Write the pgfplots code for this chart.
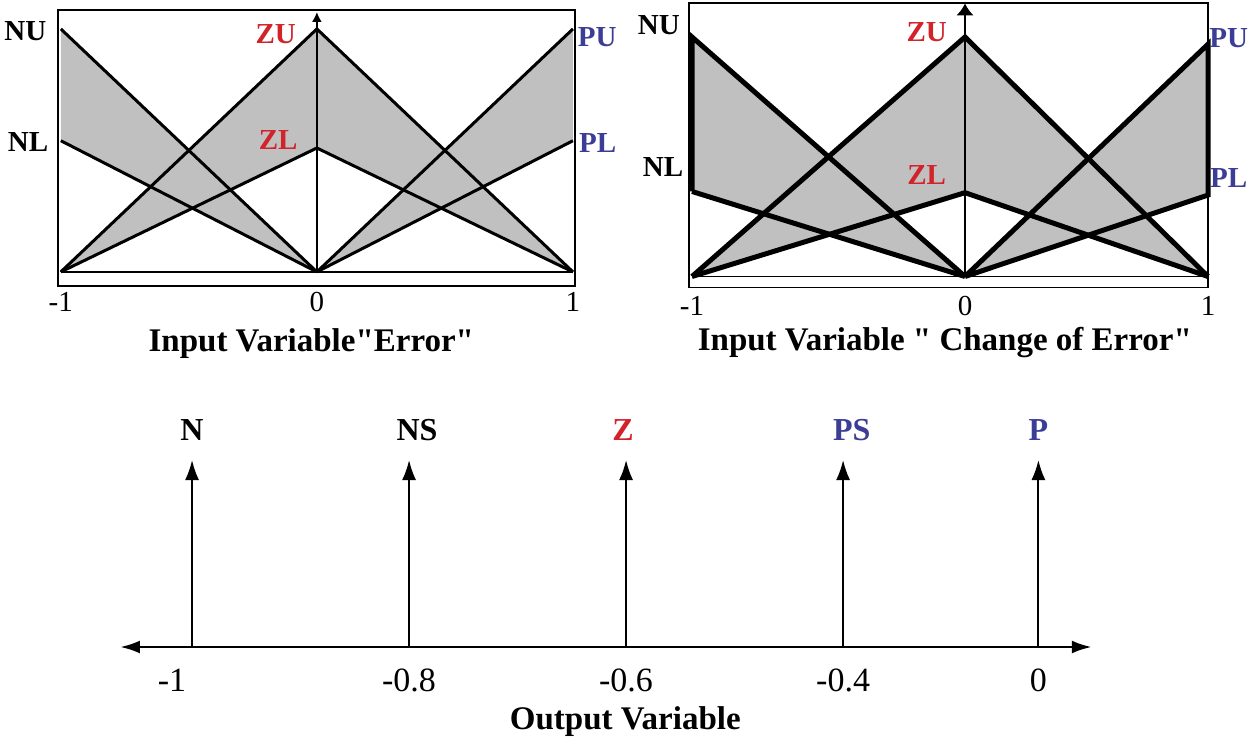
\documentclass[border=0pt]{standalone}
\usepackage{fontspec}
\setmainfont{Liberation Serif}
\usepackage{pgfplots}
\pgfplotsset{compat=1.18}
\usetikzlibrary{arrows.meta}
\definecolor{fouGray}{HTML}{C0C0C0}
\definecolor{zRed}{HTML}{D2232A}
\definecolor{pBlue}{HTML}{3B3D96}
\newcommand\fs[1]{\fontsize{#1}{#1}\selectfont}

\pgfplotsset{
  mfaxis/.style={
    scale only axis, clip=false,
    xtick={-1,0,1}, xticklabels={-1,0,1}, ytick=\empty,
    tick style={draw=none},
    axis line style={line width=0.7pt},
    xticklabel style={anchor=center, font=\fs{14.5pt}},
    xlabel style={anchor=center, font=\fs{16.5pt}\bfseries},
  },
}
\tikzset{mflabel/.style={font=\fs{14.5pt}\bfseries, anchor=center}}

\begin{document}
\begin{tikzpicture}
\useasboundingbox (0,0) rectangle (627.5pt,-372pt);

% ---- input "Error"
\begin{axis}[mfaxis,
  at={(29pt,-143pt)}, anchor=south west, width=258.5pt, height=138pt,
  xmin=-1.011, xmax=1.008, ymin=-0.058, ymax=1.078,
  xticklabel style={yshift=-7.85pt},
  xlabel={Input Variable\textquotedbl Error\textquotedbl},
  xlabel style={at={(axis description cs:0.49,-0.207)}},
]
\addplot[fill=fouGray, draw=none] coordinates {(-1,1) (0,0) (-1,0.54)} -- cycle;
\addplot[fill=fouGray, draw=none] coordinates {(-1,0) (0,1) (1,0) (0,0.51)} -- cycle;
\addplot[fill=fouGray, draw=none] coordinates {(0,0) (1,1) (1,0.54)} -- cycle;
\addplot[line width=0.7pt] coordinates {(-1,0) (1,0)};
\addplot[line width=1pt, -{Latex[length=5pt,width=5pt]}] coordinates {(0,0) (0,1.07)};
\addplot[line width=1.5pt] coordinates {(-1,1) (0,0)};
\addplot[line width=1.5pt] coordinates {(-1,0.54) (0,0)};
\addplot[line width=1.5pt] coordinates {(-1,0) (0,1) (1,0)};
\addplot[line width=1.5pt] coordinates {(-1,0) (0,0.51) (1,0)};
\addplot[line width=1.5pt] coordinates {(0,0) (1,1)};
\addplot[line width=1.5pt] coordinates {(0,0) (1,0.54)};
\node[mflabel] at (rel axis cs:-0.063,0.925) {NU};
\node[mflabel] at (rel axis cs:-0.058,0.523) {NL};
\node[mflabel, text=zRed] at (rel axis cs:0.421,0.911) {ZU};
\node[mflabel, text=zRed] at (rel axis cs:0.426,0.529) {ZL};
\node[mflabel, text=pBlue] at (rel axis cs:1.043,0.900) {PU};
\node[mflabel, text=pBlue] at (rel axis cs:1.044,0.518) {PL};
\end{axis}

% ---- input "Change of Error"
\begin{axis}[mfaxis,
  at={(344.5pt,-143.75pt)}, anchor=south west, width=259.5pt, height=142.25pt,
  x coord trafo/.code={\pgfmathparse{ifthenelse(#1>0,0.89*#1,#1)}},
  x coord inv trafo/.code={\pgfmathparse{ifthenelse(#1>0,#1/0.89,#1)}},
  xmin=-1.011, xmax=1.0, ymin=-0.046, ymax=1.142,
  xticklabel style={yshift=-9.25pt},
  xlabel={Input Variable \textquotedbl{} Change of Error\textquotedbl},
  xlabel style={at={(axis description cs:0.493,-0.195)}},
]
\addplot[fill=fouGray, draw=none] coordinates {(-1,1) (0,0) (-1,0.355)} -- cycle;
\addplot[fill=fouGray, draw=none] coordinates {(-1,0) (0,1) (1,0) (0,0.35)} -- cycle;
\addplot[fill=fouGray, draw=none] coordinates {(0,0) (1,0.97) (1,0.34)} -- cycle;
\addplot[line width=0.7pt] coordinates {(-1,0) (1,0)};
\addplot[line width=1.2pt, -{Latex[length=6pt,width=9pt]}] coordinates {(0,0) (0,1.14)};
\addplot[line width=2.5pt] coordinates {(-1,0.355) (-1,1) (0,0)};
\addplot[line width=2.5pt] coordinates {(-1,0.355) (0,0)};
\addplot[line width=2.5pt] coordinates {(-1,0) (0,1) (1,0)};
\addplot[line width=2.5pt] coordinates {(-1,0) (0,0.35) (1,0)};
\addplot[line width=2.5pt] coordinates {(0,0) (1,0.97) (1,0.34) (0,0)};
\node[mflabel] at (rel axis cs:-0.058,0.923) {NU};
\node[mflabel] at (rel axis cs:-0.050,0.424) {NL};
\node[mflabel, text=zRed] at (rel axis cs:0.458,0.896) {ZU};
\node[mflabel, text=zRed] at (rel axis cs:0.458,0.395) {ZL};
\node[mflabel, text=pBlue] at (rel axis cs:1.040,0.877) {PU};
\node[mflabel, text=pBlue] at (rel axis cs:1.040,0.385) {PL};
\end{axis}

% ---- output singletons
\begin{axis}[scale only axis, clip=false,
  at={(60pt,-323.5pt)}, anchor=south west, width=485.9pt, height=93.5pt,
  xmin=-0.332, xmax=4.146, ymin=0, ymax=1,
  axis line style={draw=none}, tick style={draw=none}, ytick=\empty,
  xtick={0,1,2,3,3.9},
  xticklabels={\makebox[0pt]{\hspace*{-20pt}-1},-0.8,-0.6,-0.4,0},
  xticklabel style={anchor=center, yshift=-16.5pt, font=\fs{17pt}},
  xlabel={Output Variable},
  xlabel style={at={(axis description cs:0.52,-0.401)}, anchor=center, font=\fs{16.5pt}\bfseries},
]
\addplot[line width=1.4pt, {Latex[length=10pt,width=6.5pt]}-{Latex[length=10pt,width=6.5pt]}]
  coordinates {(-0.332,0) (4.146,0)};
\addplot[line width=1pt, -{Latex[length=10pt,width=7pt]}, quiver={u=0, v=\thisrow{v}}] table {
x   y v
0   0 1
1   0 1
2   0 1
3   0 1
3.9 0 1
};
\node[font=\fs{16pt}\bfseries] at (axis cs:0,1.16) {N};
\node[font=\fs{16pt}\bfseries] at (axis cs:1.037,1.16) {NS};
\node[font=\fs{16pt}\bfseries, text=zRed] at (axis cs:1.986,1.16) {Z};
\node[font=\fs{16pt}\bfseries, text=pBlue] at (axis cs:3.04,1.16) {PS};
\node[font=\fs{16pt}\bfseries, text=pBlue] at (axis cs:3.9,1.16) {P};
\end{axis}
\end{tikzpicture}
\end{document}
